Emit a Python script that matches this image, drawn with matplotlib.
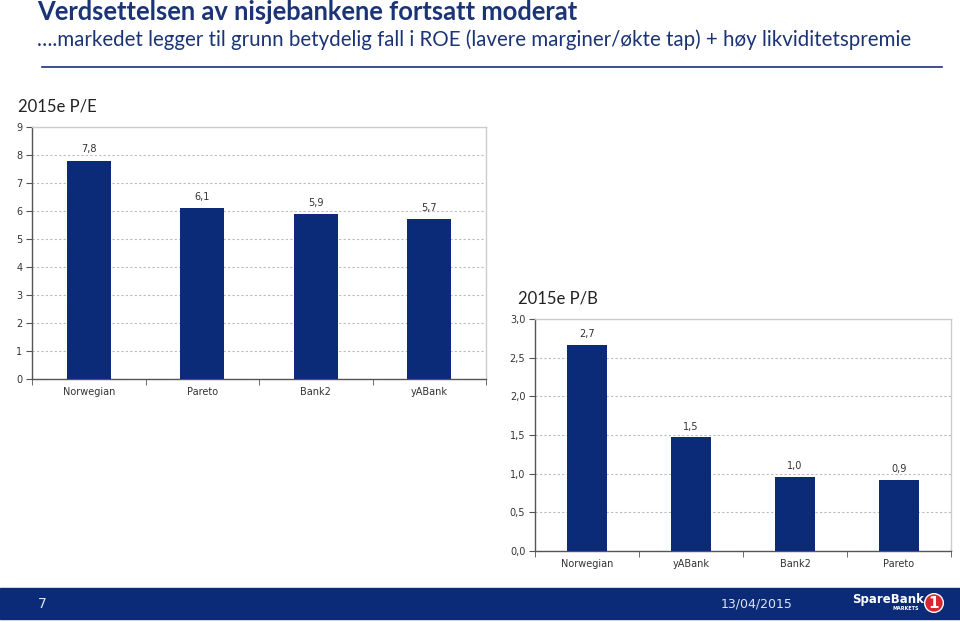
import matplotlib
matplotlib.use("Agg")
import matplotlib.pyplot as plt
from matplotlib.patches import Rectangle

# data
pe_banks = ["Norwegian", "Pareto", "Bank2", "yABank"]
pe_values = [7.8, 6.1, 5.9, 5.7]
pb_banks = ["Norwegian", "yABank", "Bank2", "Pareto"]
pb_values = [2.66, 1.47, 0.96, 0.92]
pb_labels = ["2,7", "1,5", "1,0", "0,9"]
pe_ticks = list(range(0, 10))
pb_ticks = [0.0, 0.5, 1.0, 1.5, 2.0, 2.5, 3.0]

NAVY = "#0b2a78"
TITLE_BLUE = "#1b3476"
W, H = 960, 622

fig = plt.figure(figsize=(9.6, 6.22), dpi=100)


def px_axes(x0, y0, x1, y1):
    return fig.add_axes([x0 / W, 1 - y1 / H, (x1 - x0) / W, (y1 - y0) / H])


def bar_panel(ax, cats, vals, labels, ticks, ymax, fmt):
    x = range(len(cats))
    ax.bar(x, vals, width=0.39, color=NAVY, zorder=3)
    for xi, v, lab in zip(x, vals, labels):
        ax.text(xi, v + ymax * 0.025, lab, ha="center", va="bottom",
                fontsize=7, color="#333333", family="DejaVu Sans")
    ax.set_xlim(-0.5, len(cats) - 0.5)
    ax.set_ylim(0, ymax)
    ax.set_yticks(ticks)
    ax.set_yticklabels([fmt(t) for t in ticks], fontsize=7, color="#333333")
    ax.set_xticks(list(x))
    ax.set_xticklabels(cats, fontsize=7, color="#333333")
    ax.set_xticks([i + 0.5 for i in range(-1, len(cats))], minor=True)
    ax.tick_params(axis="x", which="major", length=0, pad=6)
    ax.tick_params(axis="x", which="minor", length=4, direction="out", color="#555555")
    ax.tick_params(axis="y", length=4, direction="out", color="#555555", pad=3)
    ax.grid(axis="y", linestyle=(0, (2, 2)), color="#bbbbbb", linewidth=0.8, zorder=0)
    for s in ["left", "bottom"]:
        ax.spines[s].set_color("#555555")
        ax.spines[s].set_linewidth(1.0)
    for s in ["top", "right"]:
        ax.spines[s].set_color("#cccccc")
        ax.spines[s].set_linewidth(1.0)


ax1 = px_axes(32, 127, 486, 379)
bar_panel(ax1, pe_banks, pe_values, [f"{v:.1f}".replace(".", ",") for v in pe_values],
          pe_ticks, 9, lambda t: str(t))

ax2 = px_axes(535, 319, 951, 551)
bar_panel(ax2, pb_banks, pb_values, pb_labels, pb_ticks, 3.0,
          lambda t: f"{t:.1f}".replace(".", ","))

# titles
fig.text(37 / W, 1 - 12 / H, "Verdsettelsen av nisjebankene fortsatt moderat",
         fontsize=18.4, fontweight="bold", color=TITLE_BLUE, family="Lato", va="center")
fig.text(37 / W, 1 - 40 / H,
         "\u2026.markedet legger til grunn betydelig fall i ROE (lavere marginer/\u00f8kte tap) + h\u00f8y likviditetspremie",
         fontsize=14.8, color=TITLE_BLUE, family="Lato", va="center")
fig.add_artist(plt.Line2D([42 / W, 942 / W], [1 - 67 / H, 1 - 67 / H], color=TITLE_BLUE, linewidth=1.2))

fig.text(18 / W, 1 - 106 / H, "2015e P/E", fontsize=12, color="#222222", family="Lato", va="center")
fig.text(518 / W, 1 - 299 / H, "2015e P/B", fontsize=12, color="#222222", family="Lato", va="center")

# footer band
fig.add_artist(Rectangle((0, 3 / H), 1, 31 / H, transform=fig.transFigure, color=NAVY, zorder=0))
fig.text(38 / W, 1 - 604 / H, "7", fontsize=10, color="#dde4f2", family="DejaVu Sans", va="center")
fig.text(757 / W, 1 - 604 / H, "13/04/2015", fontsize=9, color="#dde4f2", family="DejaVu Sans",
         va="center", ha="center")
fig.text(888 / W, 1 - 599 / H, "SpareBank", fontsize=8.5, fontweight="bold", color="white",
         family="DejaVu Sans", va="center", ha="center")
fig.text(906 / W, 1 - 609 / H, "MARKETS", fontsize=3.5, fontweight="bold", color="white",
         family="DejaVu Sans", va="center", ha="center")
fig.text(934 / W, 1 - 603 / H, "1", fontsize=11, fontweight="bold", color="white", family="DejaVu Sans",
         va="center", ha="center",
         bbox=dict(boxstyle="circle,pad=0.12", fc="#d9262e", ec="white", lw=1))

fig.savefig("out.png", dpi=100)
